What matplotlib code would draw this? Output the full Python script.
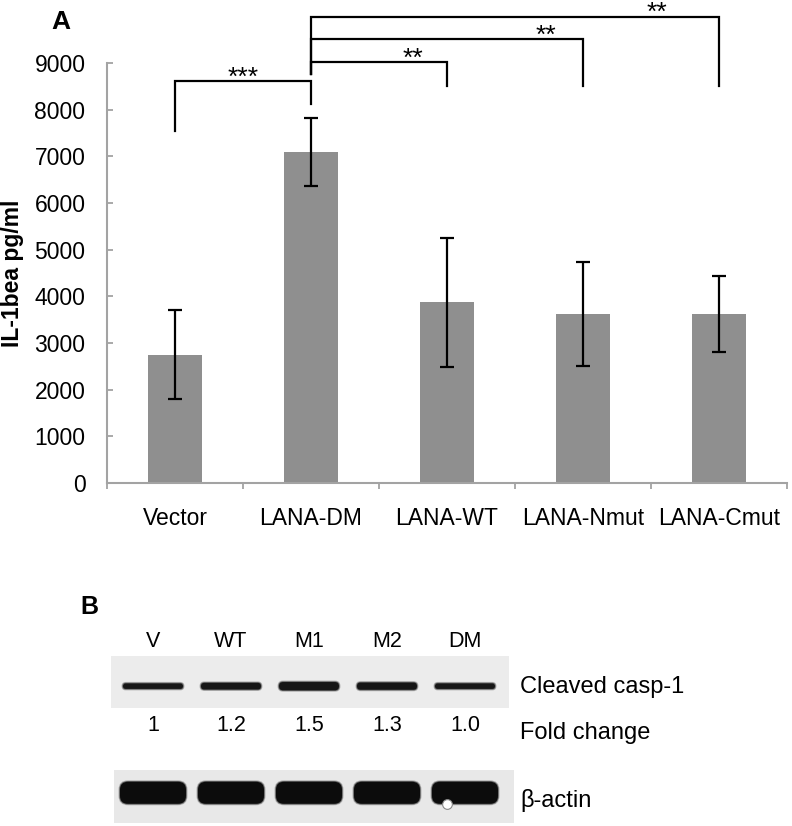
import numpy as np
import matplotlib
matplotlib.use('Agg')
import matplotlib.pyplot as plt
from matplotlib.patches import FancyBboxPatch

plt.rcParams['font.family'] = ['Liberation Sans', 'DejaVu Sans']

# Panel A data
categories = ['Vector', 'LANA-DM', 'LANA-WT', 'LANA-Nmut', 'LANA-Cmut']
means = [2750, 7100, 3870, 3620, 3620]
errors = [950, 730, 1380, 1120, 810]

# significance brackets: (left bar, right bar, label)
comparisons = [(0, 1, '***'), (1, 2, '**'), (1, 3, '**'), (1, 4, '**')]
bracket_top = [8610, 9020, 9510, 9990]
bracket_left_end = [7540, 8760, 8760, 8760]
bracket_right_end = [8120, 8500, 8500, 8500]
star_x = [0.5, 1.75, 2.73, 3.54]

# Panel B data
lanes = ['V', 'WT', 'M1', 'M2', 'DM']
fold_change = ['1', '1.2', '1.5', '1.3', '1.0']

W, H = 792, 826
fig = plt.figure(figsize=(W / 100, H / 100), dpi=100)

# ---- panel A ----
ax = fig.add_axes([107 / W, 1 - 483 / H, 680 / W, 420 / H])
x = np.arange(len(categories))
ax.bar(x, means, width=0.4, color='#8f8f8f', yerr=errors, capsize=4.8,
       error_kw=dict(elinewidth=1.6, capthick=1.6, ecolor='black'))

ax.set_xlim(-0.5, len(categories) - 0.5)
ax.set_ylim(0, 9000)
ax.set_yticks(np.arange(0, 9001, 1000))
ax.set_xticks(x)
ax.set_xticklabels(categories)
ax.set_xticks(np.arange(-0.5, len(categories), 1), minor=True)

for s in ['top', 'right']:
    ax.spines[s].set_visible(False)
for s in ['left', 'bottom']:
    ax.spines[s].set_color('#a3a3a3')
    ax.spines[s].set_linewidth(1.5)

ax.tick_params(axis='y', direction='in', length=4.5, width=1.3, color='#a3a3a3',
               labelsize=16.5, pad=15.5)
ax.tick_params(axis='x', which='major', length=0, labelsize=16.5, pad=17)
ax.tick_params(axis='x', which='minor', direction='out', length=4, width=1.3,
               color='#a3a3a3')

for k, (i, j, lab) in enumerate(comparisons):
    yt = bracket_top[k]
    ax.plot([i, i, j, j], [bracket_left_end[k], yt, yt, bracket_right_end[k]],
            color='black', lw=1.6, clip_on=False, solid_joinstyle='miter')
    ax.text(star_x[k], yt - 75, lab, ha='center', va='baseline', fontsize=19,
            clip_on=False)

fig.text(13 / W, 1 - 273 / H, 'IL-1bea pg/ml', rotation=90, ha='center', va='center',
         fontsize=16.5, fontweight='bold')
fig.text(61 / W, 1 - 22 / H, 'A', ha='center', va='center', fontsize=19, fontweight='bold')

# ---- panel B (western blot) ----
fig.text(89 / W, 1 - 607 / H, 'B', ha='center', va='center', fontsize=18, fontweight='bold')

lane_px = 78.0  # pixels per lane


def blot_axes(left, top, right, bottom, lane0):
    a = fig.add_axes([left / W, 1 - bottom / H, (right - left) / W, (bottom - top) / H])
    a.set_xlim((left - lane0) / lane_px, (right - lane0) / lane_px)
    a.set_ylim(0, 1)
    a.set_xticks([])
    a.set_yticks([])
    for s in a.spines.values():
        s.set_visible(False)
    return a, (bottom - top)


def band(a, xc, yc, w_px, h_px, r_px, ax_h, color='#161616'):
    aspect = lane_px / ax_h
    for grow, alpha in [(3.0, 0.25), (1.5, 0.5), (0.0, 1.0)]:
        ww = (w_px + grow) / lane_px
        hh = (h_px + grow) / ax_h
        p = FancyBboxPatch((xc - ww / 2, yc - hh / 2), ww, hh,
                           boxstyle='round,pad=0,rounding_size=%f' % ((r_px + grow / 2) / lane_px),
                           mutation_aspect=aspect, fc=color, ec='none', alpha=alpha)
        a.add_patch(p)


ax_c, hc = blot_axes(111, 656, 509, 708, 153)
ax_c.set_facecolor('#ececec')
for i, fc in enumerate(fold_change):
    th = 5.5 * float(fc)
    band(ax_c, i, 0.42, 60, th, th / 2, hc)
    ax_c.text(i, 1.27, lanes[i], transform=ax_c.get_xaxis_transform(), ha='center',
              va='center', fontsize=15.5, clip_on=False)
    ax_c.text(i, -0.33, fc, transform=ax_c.get_xaxis_transform(), ha='center',
              va='center', fontsize=15.5, clip_on=False)
ax_c.text((520 - 153) / lane_px, 0.40, 'Cleaved casp-1', ha='left', va='center',
          fontsize=17, clip_on=False)
ax_c.text((520 - 153) / lane_px, -0.48, 'Fold change', ha='left', va='center',
          fontsize=17, clip_on=False)

ax_a, ha_ = blot_axes(114, 770, 514, 823, 153)
ax_a.set_facecolor('#e8e8e8')
for i in range(len(lanes)):
    band(ax_a, i, 0.57, 66, 22, 8, ha_, color='#0c0c0c')
ax_a.plot([len(lanes) - 1 - 0.23], [0.36], 'o', ms=7, mfc='white', mec='#888888', mew=0.8)
ax_a.text((520 - 153) / lane_px, 0.43, 'β-actin', ha='left', va='center',
          fontsize=17, clip_on=False)

fig.savefig('out.png', dpi=100)
